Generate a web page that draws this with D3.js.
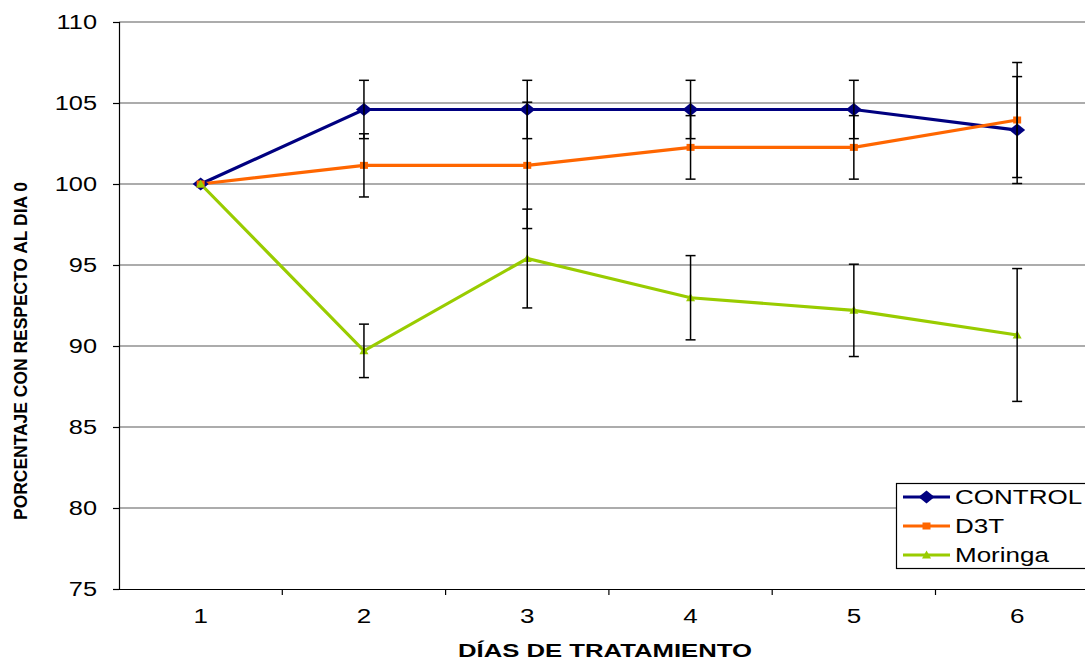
<!DOCTYPE html>
<html><head><meta charset="utf-8">
<script src="https://cdn.jsdelivr.net/npm/d3@7"></script>
<style>body{margin:0;background:#fff}svg{display:block}</style>
</head><body>
<svg id="c" width="1085" height="660"></svg>
<script>
const days = ["1","2","3","4","5","6"];
const yTicks = [75,80,85,90,95,100,105,110];
const seriesNames = ["CONTROL","D3T","Moringa"];
const controlVals = [100,104.6,104.6,104.6,104.6,103.33];
const controlErr  = [0,1.8,1.8,1.8,1.8,3.3];
const d3tVals = [100,101.15,101.15,102.26,102.26,103.95];
const d3tErr  = [0,1.95,3.9,1.96,1.96,3.55];
const moringaVals = [100,89.7,95.4,92.98,92.2,90.68];
const moringaErr  = [0,1.65,3.05,2.6,2.85,4.1];

const colors = ["#000080","#FF6600","#99CC00"];
const FONT = "Liberation Sans, Arial, sans-serif";
const STRETCH = 1.3;

// custom marker shapes (wide, as in the reference)
const diamond = {draw(c){ c.moveTo(-8,0); c.lineTo(0,-6.5); c.lineTo(8,0); c.lineTo(0,6.5); c.closePath(); }};
const square  = {draw(c){ c.rect(-4,-3.5,8,7); }};
const triangle= {draw(c){ c.moveTo(0,-4.5); c.lineTo(4.5,3.5); c.lineTo(-4.5,3.5); c.closePath(); }};
const markers = [diamond, square, triangle];

const series = [
  {name:seriesNames[0], vals:controlVals, err:controlErr},
  {name:seriesNames[1], vals:d3tVals, err:d3tErr},
  {name:seriesNames[2], vals:moringaVals, err:moringaErr}
];

function stretch(sel, f){
  sel.each(function(){
    const w = this.getComputedTextLength();
    d3.select(this).attr("textLength", w*f).attr("lengthAdjust","spacingAndGlyphs");
  });
}

const svg = d3.select("#c");
const L = 119, T = 22, B = 589, R = 119 + 163.3*6;
const x = d3.scaleBand().domain(days).range([L, R]);
const y = d3.scaleLinear().domain([75,110]).range([B, T]);
const cx = d => x(d) + x.bandwidth()/2;

// gridlines
svg.append("g").selectAll("line").data(yTicks.filter(v=>v>75)).join("line")
  .attr("x1", L).attr("x2", R).attr("y1", d=>y(d)).attr("y2", d=>y(d))
  .attr("stroke", "#5a5a5a").attr("stroke-width", 1.2);

// y axis
const ya = svg.append("g").attr("transform", `translate(${L},0)`)
  .call(d3.axisLeft(y).tickValues(yTicks).tickSize(6).tickPadding(16));
ya.select(".domain").attr("stroke","#000").attr("stroke-width",1.2);
ya.selectAll(".tick line").attr("stroke","#000").attr("stroke-width",1.2);
ya.selectAll("text").attr("font-family",FONT).attr("font-size",19.5).attr("fill","#000");
stretch(ya.selectAll("text"), STRETCH);

// x axis
const xa = svg.append("g").attr("transform", `translate(0,${B})`)
  .call(d3.axisBottom(x).tickSize(0).tickPadding(20));
xa.select(".domain").attr("stroke","#000").attr("stroke-width",1.2);
xa.selectAll("text").attr("font-family",FONT).attr("font-size",20).attr("fill","#000");
stretch(xa.selectAll("text"), STRETCH);
// band boundary ticks
svg.append("g").selectAll("line").data(days.slice(1)).join("line")
  .attr("x1", d=>x(d)).attr("x2", d=>x(d)).attr("y1", B).attr("y2", B+6)
  .attr("stroke","#000").attr("stroke-width",1.2);

// lines
const line = d3.line().x((v,i)=>cx(days[i])).y(v=>y(v));
series.forEach((s,k)=>{
  svg.append("path").datum(s.vals).attr("d", line)
    .attr("fill","none").attr("stroke", colors[k]).attr("stroke-width",3.2);
});

// markers
series.forEach((s,k)=>{
  svg.append("g").selectAll("path").data(s.vals).join("path")
    .attr("transform",(v,i)=>`translate(${cx(days[i])},${y(v)})`)
    .attr("d", d3.symbol().type(markers[k]))
    .attr("fill", colors[k]);
});

// error bars
series.forEach((s,k)=>{
  const g = svg.append("g").attr("stroke","#000").attr("stroke-width",1.5);
  s.vals.forEach((v,i)=>{
    const e = s.err[i]; if(!e) return;
    const px = cx(days[i]);
    g.append("line").attr("x1",px).attr("x2",px).attr("y1",y(v+e)).attr("y2",y(v-e));
    [v+e, v-e].forEach(w=>g.append("line").attr("x1",px-5).attr("x2",px+5).attr("y1",y(w)).attr("y2",y(w)));
  });
});

// legend
const lg = svg.append("g");
lg.append("rect").attr("x",896.5).attr("y",483.5).attr("width",200).attr("height",85)
  .attr("fill","#fff").attr("stroke","#000").attr("stroke-width",1.2);
series.forEach((s,k)=>{
  const yy = 497 + k*29;
  lg.append("line").attr("x1",903).attr("x2",950).attr("y1",yy).attr("y2",yy)
    .attr("stroke",colors[k]).attr("stroke-width",3.2);
  lg.append("path").attr("transform",`translate(926.5,${yy})`)
    .attr("d", d3.symbol().type(markers[k])).attr("fill",colors[k]);
  const t = lg.append("text").attr("x",955).attr("y",yy+7).text(s.name)
    .attr("font-family",FONT).attr("font-size",20).attr("fill","#000");
  stretch(t, STRETCH);
});

// titles
svg.append("text").attr("x",605).attr("y",657).attr("text-anchor","middle")
  .attr("font-family",FONT).attr("font-weight","bold").attr("font-size",17.5)
  .attr("textLength",294).attr("lengthAdjust","spacingAndGlyphs")
  .text("DÍAS DE TRATAMIENTO");
svg.append("text").attr("transform","translate(27,351) rotate(-90)").attr("text-anchor","middle")
  .attr("font-family",FONT).attr("font-weight","bold").attr("font-size",19)
  .attr("textLength",338).attr("lengthAdjust","spacingAndGlyphs")
  .text("PORCENTAJE CON RESPECTO AL DIA 0");
</script>
</body></html>
